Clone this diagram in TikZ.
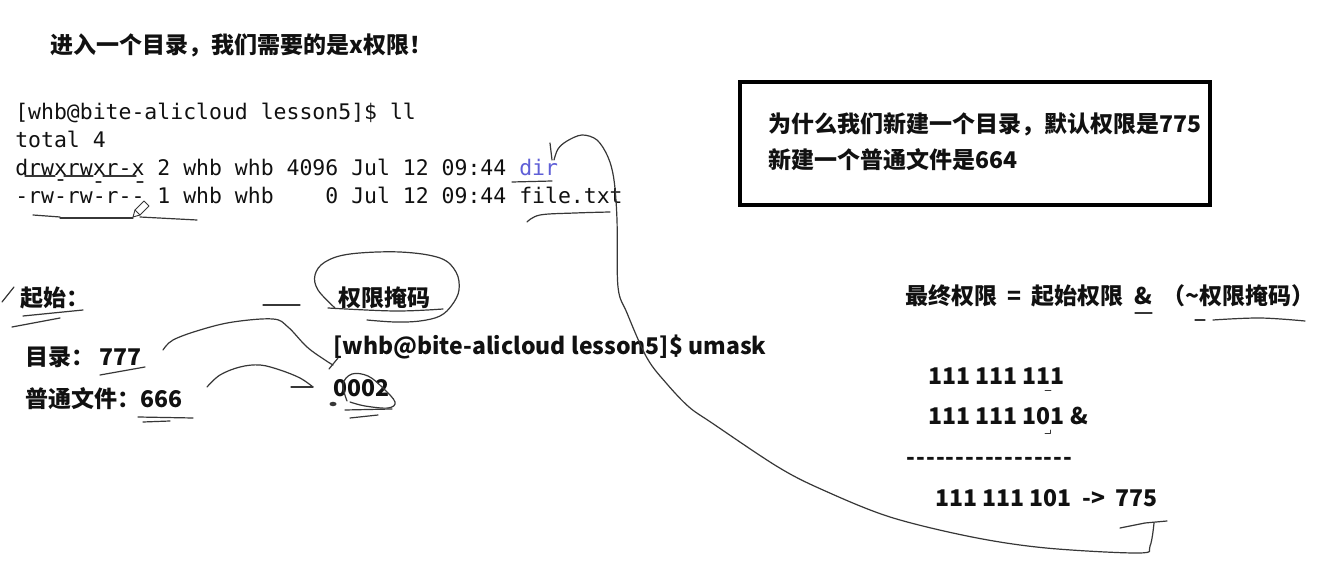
\documentclass[tikz,border=0pt]{standalone}
\usepackage{fontspec}
\newfontfamily\cjk{Noto Sans CJK SC}
\newfontfamily\mono{DejaVu Sans Mono}
\definecolor{dirblue}{RGB}{95,95,215}
\definecolor{penc}{RGB}{55,55,55}
\definecolor{ink}{RGB}{17,17,17}
\newcommand\dsh{\makebox[7.35pt][c]{-}}
\newcommand\wsp{\hspace{0.45em}}
\begin{document}
\begin{tikzpicture}[x=0.75pt,y=-0.75pt,
  term/.style={anchor=base west,inner sep=0pt,text=ink,font=\mono\fontsize{16.1pt}{19pt}\selectfont},
  cj/.style={anchor=base west,inner sep=0pt,text=ink,font=\cjk\fontsize{17.25pt}{20pt}\selectfont\bfseries},
  pen/.style={draw=penc,line width=0.9pt,line cap=round,line join=round},
  qbox/.style={draw=black,line width=3pt,inner sep=0pt,minimum width=352.5pt,minimum height=92.25pt,anchor=north west}]
\path[use as bounding box,fill=white] (0,0) rectangle (1336,570);

% title
\node[cj] (title) at (50,54) {进入一个目录，我们需要的是x权限！};

% terminal
\node[term] (t1) at (15,120) {[whb@bite-alicloud lesson5]\$ ll};
\node[term] (t2) at (15,148) {total 4};
\node[term] (t3) at (15,176) {drwxrwxr-x 2 whb whb 4096 Jul 12 09:44 \textcolor{dirblue}{dir}};
\node[term] (t4) at (15,204) {-rw-rw-r-{}- 1 whb whb~~~~0 Jul 12 09:44 file.txt};

% question box
\node[qbox] (q) at (738,80) {};
\node[cj] (q1) at (768,133) {为什么我们新建一个目录，默认权限是775};
\node[cj] (q2) at (768,169) {新建一个普通文件是664};

% left block
\node[cj] (start) at (20,307) {起始：};
\node[cj] (d777) at (25,366) {目录： 777};
\node[cj] (f666) at (25,407) {普通文件：666};
\node[cj] (maskt) at (338,307) {权限掩码};
\node[cj] (umask) at (333,355) {[whb@bite-alicloud lesson5]\$ umask};
\node[cj] (m0002) at (333,397) {0002};

% right block
\node[cj] (formula) at (905,305) {最终权限\wsp{}=\wsp{}起始权限\wsp{}\&\wsp{}（\textasciitilde{}权限掩码）};
\node[cj] (b1) at (928,384.5) {111 111 111};
\node[cj] (b2) at (928,424.5) {111 111 101 \&};
\node[cj] (b3) at (906,465) {\dsh\dsh\dsh\dsh\dsh\dsh\dsh\dsh\dsh\dsh\dsh\dsh\dsh\dsh\dsh\dsh\dsh};
\node[cj] (b4) at (935,506.5) {111 111 101\wsp{}->\wsp{}775};

% ---- hand strokes ----
% terminal underlines
\draw[pen] (25,176) -- (55,176) (64,176) -- (93,176) (103,176) -- (136,176);
\draw[pen] (58,180) -- (63,180) (96,182) -- (101,182) (137,182) -- (143,182);
\draw[pen] (33,215) -- (60,217);
\draw[pen] (60,218) -- (133,218);
\draw[pen] (140,217) -- (197,220);
\draw[pen] (512,182) -- (552,181);
\draw[pen] plot[smooth,tension=0.6] coordinates {(527,222) (540,215) (575,213) (610,212)};
% pencil cursor
\draw[pen,line width=0.7pt,fill=white] (133,217) -- (135,210) -- (144,201) -- (149,206) -- (140,215) -- cycle;
\draw[pen,line width=0.7pt] (135,210) -- (140,215);

% big curve from dir to 775
\coordinate (tipdir) at (554,160);
\coordinate (hook) at (1154,523);
\draw[pen] plot[smooth,tension=0.55] coordinates {(tipdir) (558,149) (567,141) (582,135) (597,140) (608,157) (614,180) (617,220) (618,287) (627,313) (647,358) (667,384) (689,407) (712,423) (778,467) (823,490) (890,517) (972,537) (1046,548) (1139,553) (1150,546) (hook)};
\draw[pen] (550,143) -- (552,160);
\draw[pen] (1120,528) -- (1145,523) -- (1167,521);

% 起始 strokes
\draw[pen] (2,302) -- (14,287);
\draw[pen] (23,316) -- (83,310);
\draw[pen] (12,327) -- (60,318);
\draw[pen] (100,375) -- (145,367);
\draw[pen] (138,417) -- (193,418);
\draw[pen] (143,422) -- (170,421);

% 777 -> 0002
\draw[pen] plot[smooth,tension=0.6] coordinates {(163,350) (173,340) (200,330) (233,322) (273,319) (288,327) (307,347) (325,360) (333,365)};
\draw[pen] (329,369) -- (338,358);
% 666 -> 0002
\draw[pen] plot[smooth,tension=0.6] coordinates {(207,387) (220,375) (240,367) (260,365) (280,370) (300,378) (313,387)};
\draw[pen] (291,387) -- (313,387);

% mask ellipse
\draw[pen] plot[smooth,tension=0.6] coordinates {(335,308) (318,290) (315,275) (325,262) (350,254) (400,252) (440,258) (456,272) (459,290) (452,305) (440,316) (420,321) (395,322) (367,320)};
\draw[pen] plot[smooth,tension=0.6] coordinates {(328,308) (395,311) (443,309)};
\draw[pen] (263,305) -- (300,305);

% 0002 loop
\draw[pen] plot[smooth,tension=0.6] coordinates {(347,401) (343,384) (352,374) (368,376) (383,388) (395,402) (388,408) (365,406) (350,402)};
\draw[pen] (345,410) -- (392,409);
\draw[pen] (350,418) -- (378,415);
\fill[penc] (333,404) ellipse [x radius=3.5, y radius=2.2];

% formula underlines
\draw[pen] (1135,313) -- (1152,313);
\draw[pen] (1195,320) -- (1205,320);
\draw[pen] plot[smooth,tension=0.6] coordinates {(1213,320) (1260,318) (1305,321)};
\draw[pen,line width=0.7pt] (1045,390) -- (1051,390);
\draw[pen,line width=0.7pt] (1045,433) -- (1050,433) -- (1050,430);
\end{tikzpicture}
\end{document}
